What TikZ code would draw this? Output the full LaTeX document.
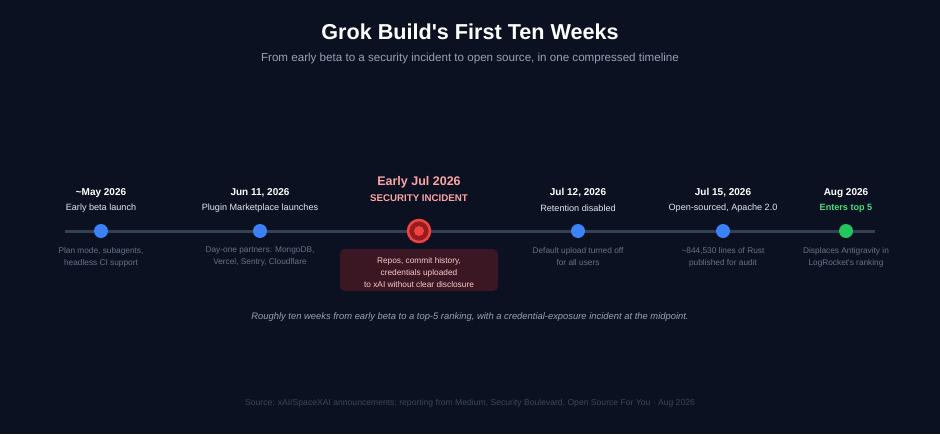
\documentclass[tikz,border=0pt]{standalone}
\usepackage{fontspec}
\setmainfont{Liberation Sans}
\definecolor{bg}{HTML}{0B1120}
\definecolor{axis}{HTML}{334155}
\definecolor{dotblue}{HTML}{3B82F6}
\definecolor{dotgreen}{HTML}{22C55E}
\definecolor{txtgreen}{HTML}{4ADE80}
\definecolor{redring}{HTML}{EF4444}
\definecolor{redfill}{HTML}{991B1B}
\definecolor{redtxt}{HTML}{FCA5A5}
\definecolor{boxfill}{HTML}{3A1722}
\definecolor{boxtxt}{HTML}{FECACA}
\definecolor{desc}{HTML}{E2E8F0}
\definecolor{note}{HTML}{64748B}
\definecolor{sub}{HTML}{94A3B8}
\definecolor{src}{HTML}{3A475A}
\begin{document}
\begin{tikzpicture}[x=1pt,y=-1pt,
  datelbl/.style={font=\bfseries\fontsize{10}{12}\selectfont,text=white,inner sep=0pt},
  desclbl/.style={font=\fontsize{9.1}{11}\selectfont,text=desc,inner sep=0pt},
  notelbl/.style={font=\fontsize{8.3}{12}\selectfont,text=note,inner sep=0pt,align=center},
  bluedot/.style={circle,fill=dotblue,minimum size=14pt,inner sep=0pt},
  greendot/.style={circle,fill=dotgreen,minimum size=14pt,inner sep=0pt}]
\fill[bg] (0,0) rectangle (940,434);
\useasboundingbox (0,0) rectangle (940,434);
% title
\node[font=\bfseries\fontsize{21.6}{26}\selectfont,text=white] (title) at (470,32) {Grok Build\textquotesingle s First Ten Weeks};
\node[font=\fontsize{11.6}{14}\selectfont,text=sub] (subtitle) at (470,58) {From early beta to a security incident to open source, in one compressed timeline};
% axis
\coordinate (axs) at (65,231);
\coordinate (axe) at (875,231);
\draw[axis,line width=3pt] (axs) -- (axe);
% events
\node[bluedot] (d1) at (101,231) {};
\node[bluedot] (d2) at (260,231) {};
\node[circle,fill=redfill,draw=redring,line width=2.5pt,minimum size=22pt,inner sep=0pt] (d3) at (419,231) {};
\node[circle,fill=redring,minimum size=10pt,inner sep=0pt] (d3i) at (419,231) {};
\node[bluedot] (d4) at (578,231) {};
\node[bluedot] (d5) at (723,231) {};
\node[greendot] (d6) at (846,231) {};
% labels
\node[datelbl] (t1) at (101,193) {\textasciitilde May 2026};
\node[desclbl] (s1) at (101,208.5) {Early beta launch};
\node[notelbl] (n1) at (101,257) {Plan mode, subagents,\\headless CI support};
\node[datelbl] (t2) at (260,193) {Jun 11, 2026};
\node[desclbl] (s2) at (260,208.5) {Plugin Marketplace launches};
\node[notelbl] (n2) at (260,257) {Day-one partners: MongoDB,\\Vercel, Sentry, Cloudflare};
\node[font=\bfseries\fontsize{12.5}{14}\selectfont,text=redtxt,inner sep=0pt] (t3) at (419,182) {Early Jul 2026};
\node[font=\bfseries\fontsize{9.7}{12}\selectfont,text=redtxt,inner sep=0pt] (s3) at (419,198.5) {SECURITY INCIDENT};
\node[fill=boxfill,rounded corners=5pt,minimum width=158pt,minimum height=42pt,inner sep=0pt] (b3) at (419,270) {};
\node[font=\fontsize{8.3}{12}\selectfont,text=boxtxt,align=center,inner sep=0pt] (b3t) at (419,273) {Repos, commit history,\\credentials uploaded\\to xAI without clear disclosure};
\node[datelbl] (t4) at (578,193) {Jul 12, 2026};
\node[desclbl] (s4) at (578,208.5) {Retention disabled};
\node[notelbl] (n4) at (578,257) {Default upload turned off\\for all users};
\node[datelbl] (t5) at (723,193) {Jul 15, 2026};
\node[desclbl] (s5) at (723,208.5) {Open-sourced, Apache 2.0};
\node[notelbl] (n5) at (723,257) {\textasciitilde 844,530 lines of Rust\\published for audit};
\node[datelbl] (t6) at (846,193) {Aug 2026};
\node[font=\bfseries\fontsize{9.1}{11}\selectfont,text=txtgreen,inner sep=0pt] (s6) at (846,208.5) {Enters top 5};
\node[notelbl] (n6) at (846,257) {Displaces Antigravity in\\LogRocket\textquotesingle s ranking};
% caption
\node[font=\itshape\fontsize{9.4}{12}\selectfont,text=sub] (cap) at (470,317) {Roughly ten weeks from early beta to a top-5 ranking, with a credential-exposure incident at the midpoint.};
\node[font=\fontsize{8.6}{11}\selectfont,text=src] (source) at (470,403) {Source: xAI/SpaceXAI announcements; reporting from Medium, Security Boulevard, Open Source For You · Aug 2026};
\end{tikzpicture}
\end{document}
